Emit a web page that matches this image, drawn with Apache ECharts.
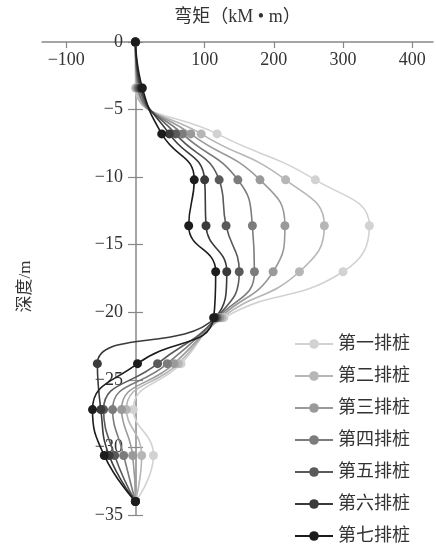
<!DOCTYPE html>
<html>
<head>
<meta charset="utf-8">
<script src="https://cdn.jsdelivr.net/npm/echarts@6/dist/echarts.min.js"></script>
<style>
  html, body { margin: 0; padding: 0; background: #fff; }
  #chart { width: 436px; height: 546px; }
</style>
</head>
<body>
<div id="chart"></div>
<script>
// 深度 (m)
var depths = [0, -3.4, -6.8, -10.2, -13.6, -17, -20.4, -23.8, -27.2, -30.6, -34];

// 各排桩弯矩 (kM·m)
var pile1 = [0, 0, 118, 260, 338, 300, 128, 66, -3, 26, 0];
var pile2 = [0, 1, 95, 217, 273, 237, 125, 62, -13, 9, 0];
var pile3 = [0, 3, 80, 180, 216, 199, 122, 56, -20, -4, 0];
var pile4 = [0, 4, 68, 148, 169, 172, 119, 46, -33, -17, 0];
var pile5 = [0, 6, 58, 121, 131, 150, 117, 32, -46, -30, 0];
var pile6 = [0, 8, 49, 100, 102, 132, 115, -55, -50, -38, 0];
var pile7 = [0, 10, 38, 85, 77, 116, 113, 3, -62, -45, 0];

var names = ['第一排桩', '第二排桩', '第三排桩', '第四排桩', '第五排桩', '第六排桩', '第七排桩'];
var values = [pile1, pile2, pile3, pile4, pile5, pile6, pile7];
var colors = ['#d2d2d2', '#b6b6b6', '#9a9a9a', '#7c7c7c', '#5a5a5a', '#3a3a3a', '#1c1c1c'];

var xTicks = [-100, 100, 200, 300, 400];

var fontFamily = '"Liberation Serif", "Noto Sans CJK SC", serif';

var myChart = echarts.init(document.getElementById('chart'));

// 把负号换成真正的减号
var minusFmt = function (v) {
  return String(v).replace('-', '\u2212');
};

var series = names.map(function (name, i) {
  return {
    name: name,
    type: 'line',
    smooth: true,
    symbol: 'circle',
    symbolSize: 9,
    yAxisIndex: 0,
    lineStyle: { color: colors[i], width: 1.6 },
    itemStyle: { color: colors[i] },
    data: depths.map(function (d, k) { return [values[i][k], d]; })
  };
});

var option = {
  backgroundColor: '#fff',
  animation: false,
  textStyle: { fontFamily: fontFamily },
  grid: {
    left: 42,
    right: 3,
    top: 42,
    bottom: 31,
    containLabel: false
  },
  legend: {
    orient: 'vertical',
    left: 294,
    top: 335,
    padding: 0,
    itemWidth: 38,
    itemHeight: 12,
    itemGap: 14,
    data: names,
    textStyle: { fontSize: 18, color: '#333', fontFamily: fontFamily }
  },
  xAxis: {
    type: 'value',
    position: 'top',
    min: -135,
    max: 430,
    name: '弯矩（kM • m）',
    nameLocation: 'middle',
    nameGap: 16,
    nameTextStyle: { fontSize: 18, color: '#333', fontFamily: fontFamily },
    axisLine: { onZero: false, lineStyle: { color: '#888', width: 1.5 } },
    axisTick: {
      inside: true,
      length: 6,
      customValues: xTicks,
      lineStyle: { color: '#888', width: 1.2 }
    },
    axisLabel: {
      inside: true,
      margin: 9,
      customValues: xTicks,
      fontSize: 18,
      color: '#333',
      fontFamily: fontFamily,
      formatter: minusFmt
    },
    splitLine: { show: false }
  },
  yAxis: [
    {
      type: 'value',
      position: 'left',
      offset: -94,
      min: -35,
      max: 0,
      interval: 5,
      name: '深度/m',
      nameLocation: 'middle',
      nameGap: 102,
      nameRotate: 90,
      nameTextStyle: { fontSize: 17, color: '#333', fontFamily: fontFamily, padding: [0, 16, 0, 0] },
      axisLine: { onZero: false, lineStyle: { color: '#888', width: 1.5 } },
      axisTick: { length: 8, lineStyle: { color: '#888', width: 1.2 } },
      axisLabel: {
        margin: 13,
        fontSize: 18,
        color: '#333',
        fontFamily: fontFamily,
        formatter: minusFmt
      },
      splitLine: { show: false }
    },
    {
      // 刻度线穿过轴线的另一半
      type: 'value',
      position: 'left',
      offset: -94,
      min: -35,
      max: 0,
      interval: 5,
      axisLine: { show: false, onZero: false },
      axisTick: { inside: true, length: 7, lineStyle: { color: '#888', width: 1.2 } },
      axisLabel: { show: false },
      splitLine: { show: false }
    }
  ],
  series: series
};

myChart.setOption(option);
</script>
</body>
</html>
